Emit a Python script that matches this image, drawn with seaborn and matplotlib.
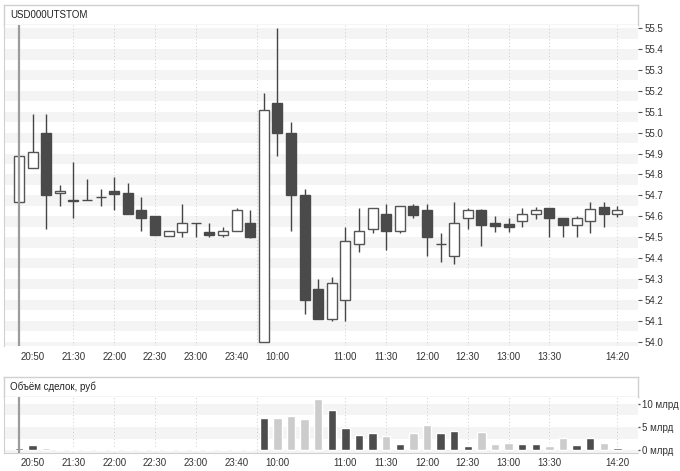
import matplotlib
matplotlib.use('Agg')
import matplotlib.pyplot as plt
import seaborn as sns
import pandas as pd
import numpy as np

sns.set_style('white')
plt.rcParams['font.family'] = ['Liberation Sans', 'DejaVu Sans']

ticker = 'USD000UTSTOM'
volume_title = 'Объём сделок, руб'

# OHLC per 10-minute candle (two sessions)
opens = [54.67, 54.83, 55.00, 54.71, 54.68, 54.68, 54.69, 54.72, 54.71, 54.63,
         54.60, 54.505, 54.525, 54.57, 54.527, 54.51, 54.53, 54.57,
         54.00, 55.14, 55.00, 54.70, 54.25, 54.11, 54.20, 54.465, 54.54, 54.61,
         54.53, 54.65, 54.63, 54.465, 54.41, 54.59, 54.63, 54.57, 54.563, 54.575,
         54.61, 54.64, 54.59, 54.56, 54.575, 54.645, 54.61]
highs = [54.89, 55.09, 55.09, 54.75, 54.86, 54.78, 54.73, 54.79, 54.76, 54.69,
         54.60, 54.53, 54.66, 54.57, 54.57, 54.55, 54.64, 54.63,
         55.19, 55.50, 55.05, 54.73, 54.30, 54.31, 54.55, 54.64, 54.64, 54.66,
         54.65, 54.66, 54.66, 54.52, 54.67, 54.64, 54.635, 54.60, 54.59, 54.64,
         54.645, 54.64, 54.59, 54.60, 54.67, 54.67, 54.65]
lows = [54.67, 54.83, 54.54, 54.65, 54.59, 54.68, 54.65, 54.63, 54.61, 54.53,
        54.51, 54.505, 54.50, 54.50, 54.50, 54.50, 54.53, 54.495,
        54.00, 54.89, 54.53, 54.13, 54.11, 54.10, 54.10, 54.43, 54.52, 54.44,
        54.52, 54.59, 54.41, 54.38, 54.37, 54.54, 54.46, 54.525, 54.525, 54.55,
        54.585, 54.50, 54.50, 54.50, 54.52, 54.55, 54.595]
closes = [54.89, 54.91, 54.70, 54.72, 54.675, 54.68, 54.69, 54.705, 54.61, 54.59,
          54.51, 54.53, 54.57, 54.57, 54.51, 54.53, 54.63, 54.50,
          55.11, 55.00, 54.70, 54.20, 54.11, 54.28, 54.48, 54.53, 54.64, 54.53,
          54.65, 54.605, 54.50, 54.465, 54.57, 54.63, 54.56, 54.555, 54.549, 54.61,
          54.63, 54.59, 54.56, 54.59, 54.635, 54.61, 54.63]

# traded volume, billions of roubles
volumes = [0.6, 1.1, 0.45, 0.25, 0.4, 0.4, 0.4, 0.4, 0.4, 0.4,
           0.4, 0.4, 0.4, 0.4, 0.4, 0.4, 0.4, 0.4,
           6.9, 6.9, 7.4, 6.7, 11.0, 8.6, 4.9, 3.3, 3.7, 3.1,
           1.45, 3.7, 5.45, 3.7, 4.2, 1.0, 3.9, 1.3, 1.7, 1.45,
           1.45, 0.9, 2.7, 1.1, 2.6, 1.7, 0.45]
vol_kind = ['dark', 'dark', 'light', 'dark', 'light', 'light', 'light', 'light', 'light', 'light',
            'light', 'dark', 'dark', 'light', 'light', 'dark', 'dark', 'light',
            'dark', 'light', 'light', 'light', 'light', 'dark', 'dark', 'dark', 'dark', 'light',
            'dark', 'light', 'light', 'dark', 'dark', 'dark', 'light', 'light', 'light', 'dark',
            'dark', 'light', 'light', 'dark', 'dark', 'light', 'dark']

tick_pos = [1, 4, 7, 10, 13, 16, 19, 24, 27, 30, 33, 36, 39, 44]
tick_labels = ['20:50', '21:30', '22:00', '22:30', '23:00', '23:40', '10:00',
               '11:00', '11:30', '12:00', '12:30', '13:00', '13:30', '14:20']
grid_pos = [4, 7, 10, 13, 24, 27, 30, 33, 36, 39, 44]
session_break = 17.5
cursor_pos = 0

price_ticks = np.round(np.arange(54.0, 55.51, 0.1), 1)
vol_ticks = [0, 5, 10]
vol_tick_labels = ['0 млрд', '5 млрд', '10 млрд']

W, H = 680, 471
DARK = '#4a4a4a'
EDGE = '#d0d0d0'
BAND = '#f4f4f4'
GRID = '#cccccc'
XLIM = (-1.14, 45.48)


def px_axes(fig, x0, y0, x1, y1):
    return fig.add_axes([x0 / W, 1 - y1 / H, (x1 - x0) / W, (y1 - y0) / H])


def title_box(fig, y0, y1, text):
    ax = px_axes(fig, 3.5, y0, 637.5, y1)
    ax.set_xticks([])
    ax.set_yticks([])
    for s in ax.spines.values():
        s.set_color(EDGE)
        s.set_linewidth(1)
    ax.text(6.5 / 634, 0.5, text, transform=ax.transAxes, va='center', ha='left',
            fontsize=7, color='#222222')
    return ax


def vertical_lines(ax):
    for g in grid_pos:
        ax.axvline(g, color=GRID, lw=0.7, ls=(0, (1, 2.5)), zorder=1)
    ax.axvline(session_break, color=GRID, lw=0.7, ls=(0, (1, 2.5)), zorder=1)
    ax.axvline(cursor_pos, color='#9c9c9c', lw=1.6, zorder=6)


fig = plt.figure(figsize=(W / 100, H / 100), dpi=100)

# ---- price pane
title_box(fig, 5, 24.5, ticker)
ax = px_axes(fig, 3.5, 24.5, 637.5, 346)
for t in price_ticks:
    ax.axhspan(t - 0.05, t, color=BAND, lw=0, zorder=0)
vertical_lines(ax)

x = np.arange(len(opens))
o = np.array(opens)
c = np.array(closes)
up = c > o
ax.vlines(x, lows, highs, color='#444444', lw=1, zorder=2)
ax.bar(x, c - o, bottom=o, width=0.73,
       color=np.where(up, 'white', DARK), edgecolor=np.where(up, '#555555', DARK),
       linewidth=1, zorder=3)

ax.set_xlim(*XLIM)
ax.set_ylim(53.979, 55.518)
ax.yaxis.tick_right()
ax.set_yticks(price_ticks)
ax.set_yticklabels([f'{t:.1f}' for t in price_ticks])
ax.set_xticks(tick_pos)
ax.set_xticklabels(tick_labels)
ax.tick_params(axis='y', length=3, width=0.8, color='#555555', pad=2,
               labelsize=7, labelcolor='#333333')
ax.tick_params(axis='x', length=0, pad=4, labelsize=7, labelcolor='#333333')
for k, s in ax.spines.items():
    s.set_visible(k == 'left')
    s.set_color(EDGE)

# ---- volume pane
title_box(fig, 377, 396.5, volume_title)
axv = px_axes(fig, 3.5, 396.5, 637.5, 452.5)
for lo, hi in [(-2.5, 0), (2.5, 5), (7.5, 10)]:
    axv.axhspan(lo, hi, color=BAND, lw=0, zorder=0)
vertical_lines(axv)

df = pd.DataFrame({'pos': x, 'vol': volumes, 'kind': vol_kind})
sns.barplot(data=df, x='pos', y='vol', hue='kind', dodge=False, width=0.62,
            palette={'dark': '#4d4d4d', 'light': '#cccccc'}, legend=False,
            saturation=1, ax=axv, zorder=3)
axv.set_xlabel('')
axv.set_ylabel('')
axv.set_xlim(*XLIM)
axv.set_ylim(-0.43, 11.54)
axv.yaxis.tick_right()
axv.set_yticks(vol_ticks)
axv.set_yticklabels(vol_tick_labels)
axv.set_xticks(tick_pos)
axv.set_xticklabels(tick_labels)
axv.tick_params(axis='y', length=1.5, width=1, color='#555555', pad=2,
                labelsize=7, labelcolor='#333333')
axv.tick_params(axis='x', length=0, pad=4, labelsize=7, labelcolor='#333333')
for k, s in axv.spines.items():
    s.set_visible(k in ('left', 'bottom'))
    s.set_color(EDGE)

fig.savefig('out.png', dpi=100)
